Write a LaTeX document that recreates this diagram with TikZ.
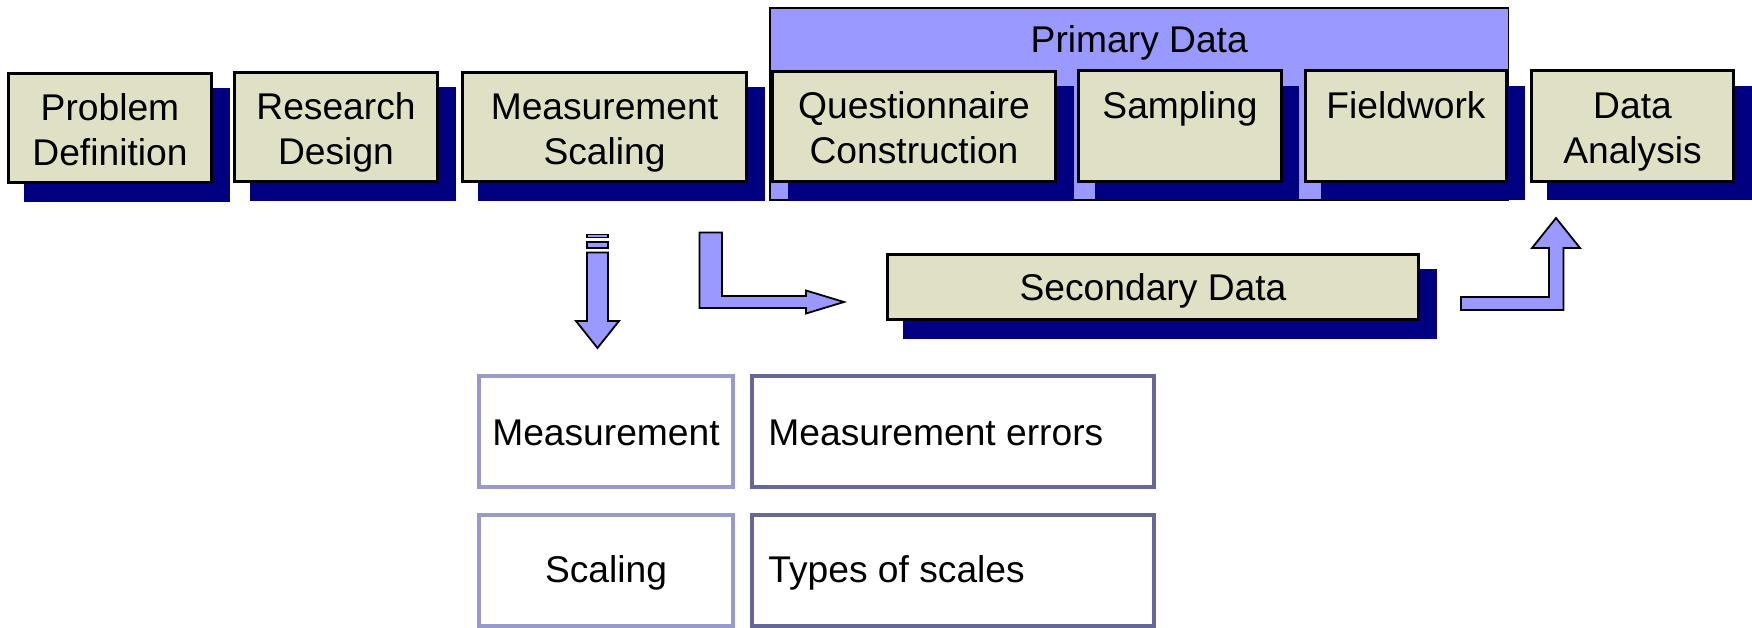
\documentclass[tikz,border=0pt]{standalone}
\usepackage{fontspec}
\setmainfont{Liberation Sans}
\usetikzlibrary{fit}
\definecolor{beige}{RGB}{224,224,196}
\definecolor{navyshade}{RGB}{0,0,128}
\definecolor{lilac}{RGB}{153,153,255}
\definecolor{paleedge}{RGB}{153,153,204}
\definecolor{darkedge}{RGB}{102,102,153}
\tikzset{
  stage/.style={draw=black, line width=1.5pt, fill=beige, inner sep=0pt},
  stagetext/.style={anchor=north, inner sep=0pt, align=center,
    font=\fontsize{18.6}{22.5}\selectfont},
  plain/.style={inner sep=0pt, font=\fontsize{18.6}{22.5}\selectfont},
  topic/.style={draw=paleedge, line width=2pt, fill=white, inner sep=0pt},
  detail/.style={draw=darkedge, line width=2pt, fill=white, inner sep=0pt},
  panel/.style={draw=black, line width=0.75pt, fill=lilac, inner sep=0pt},
  blockarrow/.style={draw=black, line width=0.9pt, fill=lilac, line join=miter},
  shadowfill/.style={fill=navyshade}
}
% drop shadow behind a named box
\newcommand{\boxshadow}[1]{%
  \fill[shadowfill] ([shift={(16,15)}]#1.north west) rectangle ([shift={(18,19)}]#1.south east);}
\begin{document}
\begin{tikzpicture}[x=0.5pt,y=-0.5pt]
\useasboundingbox (0,0) rectangle (1752,627);

% primary data panel
\node[panel, fit={(770,8) (1508.5,200)}] (primary) {};
\node[plain, anchor=base] (primary-t) at ([yshift=-22.5pt]primary.north) {Primary Data};

% stage boxes (geometry first, so shadows can be laid underneath)
\path
  node[fit={(8.5,73.5) (211.5,182.5)}, inner sep=0pt] (pd) {}
  node[fit={(234.5,72.5) (437.5,181.5)}, inner sep=0pt] (rd) {}
  node[fit={(462.5,72.5) (746.5,181.5)}, inner sep=0pt] (ms) {}
  node[fit={(772.5,71.5) (1055.5,181.5)}, inner sep=0pt] (qc) {}
  node[fit={(1079,71) (1281,181)}, inner sep=0pt] (sa) {}
  node[fit={(1305.5,71) (1506.5,181)}, inner sep=0pt] (fw) {}
  node[fit={(1531.5,71) (1733.5,181)}, inner sep=0pt] (da) {}
  node[fit={(887.5,254.5) (1418.5,319.5)}, inner sep=0pt] (sd) {};

\foreach \b in {pd,rd,ms,qc,sa,fw,da,sd} {\boxshadow{\b}}

\foreach \b in {pd,rd,ms,qc,sa,fw,da,sd} {
  \draw[stage] (\b.north west) rectangle (\b.south east);
}

\node[stagetext] (pd-t) at ([yshift=-7.75pt]pd.north) {\strut Problem\\\strut Definition};
\node[stagetext] (rd-t) at ([yshift=-7.75pt]rd.north) {\strut Research\\\strut Design};
\node[stagetext] (ms-t) at ([yshift=-7.75pt]ms.north) {\strut Measurement\\\strut Scaling};
\node[stagetext] (qc-t) at ([yshift=-7.75pt]qc.north) {\strut Questionnaire\\\strut Construction};
\node[stagetext] (sa-t) at ([yshift=-7.75pt]sa.north) {\strut Sampling};
\node[stagetext] (fw-t) at ([yshift=-7.75pt]fw.north) {\strut Fieldwork};
\node[stagetext] (da-t) at ([yshift=-7.75pt]da.north) {\strut Data\\\strut Analysis};
\node[plain, anchor=base] (sd-t) at ([yshift=-6.75pt]sd.center) {Secondary Data};

% measurement and scaling topics
\node[topic,  fit={(479,376) (733,487)}]  (meas) {};
\node[detail, fit={(752,376) (1154,487)}] (merr) {};
\node[topic,  fit={(479,515) (733,626)}]  (scal) {};
\node[detail, fit={(752,515) (1154,626)}] (styp) {};
\node[plain, anchor=base] (meas-t) at ([yshift=-6.75pt]meas.center) {Measurement};
\node[plain, anchor=base] (scal-t) at ([yshift=-6pt]scal.center) {Scaling};
\node[plain, anchor=base west] (merr-t) at ([xshift=9pt,yshift=-6.75pt]merr.west) {Measurement errors};
\node[plain, anchor=base west] (styp-t) at ([xshift=9pt,yshift=-6pt]styp.west) {Types of scales};

% block arrows
\draw[blockarrow] (587,234.5) rectangle (608,237.5);
\draw[blockarrow] (587,242) rectangle (608,248);
\draw[blockarrow] (587,252.5) -- (608,252.5) -- (608,321) -- (619,321)
  -- (597.5,348) -- (576,321) -- (587,321) -- cycle;

\draw[blockarrow] (699.5,232.5) -- (722,232.5) -- (722,296) -- (806,296)
  -- (806,290.5) -- (844,302) -- (806,313.5) -- (806,308) -- (699.5,308) -- cycle;

\draw[blockarrow] (1461,297) -- (1549,297) -- (1549,248) -- (1532,248)
  -- (1556,218) -- (1580,248) -- (1563.5,248) -- (1563.5,310) -- (1461,310) -- cycle;
\end{tikzpicture}
\end{document}
